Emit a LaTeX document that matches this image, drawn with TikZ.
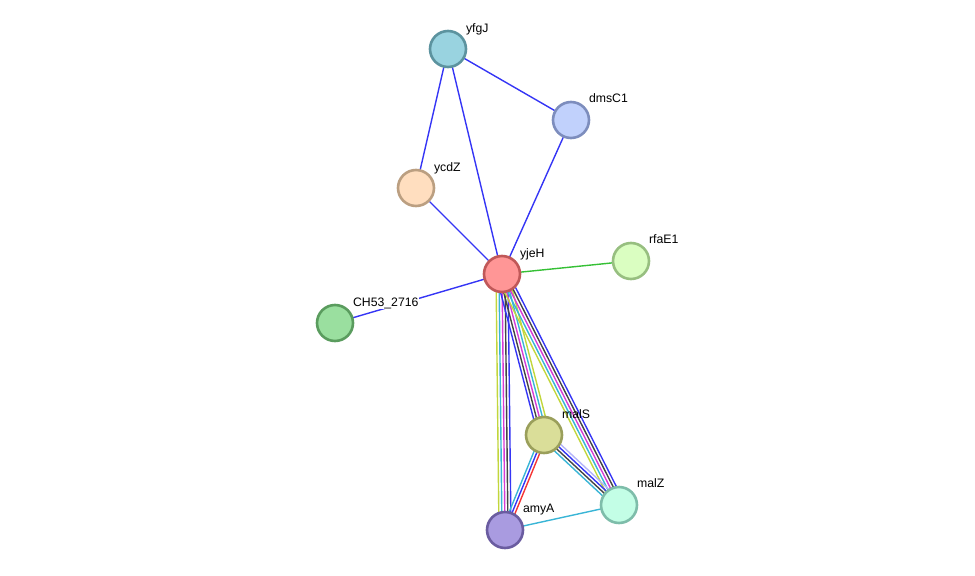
\documentclass[tikz,border=0pt]{standalone}
\usepackage{fontspec}
\setmainfont{Liberation Sans}
\usetikzlibrary{calc,backgrounds}
\definecolor{ctext}{HTML}{C2D63C}
\definecolor{cdb}{HTML}{39B5D6}
\definecolor{cexp}{HTML}{D63CD6}
\definecolor{ccoex}{HTML}{444444}
\definecolor{cblue}{HTML}{3535F5}
\definecolor{chom}{HTML}{B4B4FA}
\definecolor{cred}{HTML}{F53535}
\definecolor{cgreen}{HTML}{35C035}
\tikzset{
  x=0.75pt, y=-0.75pt,
  prot/.style={circle, minimum size=36*0.75pt, inner sep=0pt, line width=2.6*0.75pt},
  lbl/.style={font=\fontsize{9.2}{11}\selectfont, inner sep=0.6pt, anchor=base west},
  edge/.style={line width=1.4*0.75pt},
}
\newcommand{\bund}[4]{% from, to, offset (px), color
  \draw[edge, #4] ($(#1.center)!#3*0.75pt!90:(#2.center)$) -- ($(#2.center)!#3*0.75pt!-90:(#1.center)$);}
\begin{document}
\begin{tikzpicture}
\useasboundingbox (0,0) rectangle (975,575);
\node[prot, fill={rgb,255:red,153;green,211;blue,224}, draw={rgb,255:red,92;green,147;blue,159}] (yfgJ) at (448,49) {};
\node[prot, fill={rgb,255:red,193;green,209;blue,252}, draw={rgb,255:red,125;green,141;blue,189}] (dmsC1) at (571,120) {};
\node[prot, fill={rgb,255:red,255;green,222;blue,191}, draw={rgb,255:red,187;green,159;blue,129}] (ycdZ) at (416,188) {};
\node[prot, fill={rgb,255:red,255;green,150;blue,150}, draw={rgb,255:red,192;green,88;blue,88}] (yjeH) at (502,274) {};
\node[prot, fill={rgb,255:red,218;green,254;blue,193}, draw={rgb,255:red,151;green,191;blue,128}] (rfaE1) at (631,261) {};
\node[prot, fill={rgb,255:red,154;green,223;blue,159}, draw={rgb,255:red,90;green,156;blue,94}] (CH) at (335,323) {};
\node[prot, fill={rgb,255:red,218;green,222;blue,153}, draw={rgb,255:red,154;green,159;blue,91}] (malS) at (544,435) {};
\node[prot, fill={rgb,255:red,195;green,254;blue,230}, draw={rgb,255:red,126;green,189;blue,170}] (malZ) at (619,505) {};
\node[prot, fill={rgb,255:red,169;green,155;blue,224}, draw={rgb,255:red,106;green,92;blue,160}] (amyA) at (505,530) {};

\begin{pgfonlayer}{background}
\draw[edge, cblue] (yfgJ.center) -- (dmsC1.center);
\draw[edge, cblue] (yfgJ.center) -- (ycdZ.center);
\draw[edge, cblue] (yfgJ.center) -- (yjeH.center);
\draw[edge, cblue] (dmsC1.center) -- (yjeH.center);
\draw[edge, cblue] (ycdZ.center) -- (yjeH.center);
\draw[edge, cblue] (CH.center) -- (yjeH.center);
\draw[edge, cgreen] (rfaE1.center) -- (yjeH.center);
\draw[edge, cdb] (amyA.center) -- (malZ.center);
% yjeH - amyA
\bund{yjeH}{amyA}{-6}{ctext}
\bund{yjeH}{amyA}{-3}{cdb}
\bund{yjeH}{amyA}{0}{cexp}
\bund{yjeH}{amyA}{3}{ccoex}
\bund{yjeH}{amyA}{6}{cblue}
% yjeH - malS
\bund{yjeH}{malS}{-6}{cblue}
\bund{yjeH}{malS}{-3}{ccoex}
\bund{yjeH}{malS}{0}{cexp}
\bund{yjeH}{malS}{3}{cdb}
\bund{yjeH}{malS}{6}{ctext}
% yjeH - malZ
\bund{yjeH}{malZ}{-6}{ctext}
\bund{yjeH}{malZ}{-3}{cdb}
\bund{yjeH}{malZ}{0}{cexp}
\bund{yjeH}{malZ}{3}{ccoex}
\bund{yjeH}{malZ}{6}{cblue}
% malS - malZ
\bund{malS}{malZ}{4.5}{chom}
\bund{malS}{malZ}{1.5}{cblue}
\bund{malS}{malZ}{-1.5}{ccoex}
\bund{malS}{malZ}{-4.5}{cdb}
% malS - amyA
\bund{malS}{amyA}{-3}{cdb}
\bund{malS}{amyA}{0}{cblue}
\bund{malS}{amyA}{3}{cred}
\end{pgfonlayer}

\node[lbl] (lyfgJ) at (465,32) {yfgJ};
\node[lbl] (ldmsC1) at (588,102) {dmsC1};
\node[lbl] (lycdZ) at (433,171) {ycdZ};
\node[lbl] (lyjeH) at (519,257) {yjeH};
\node[lbl] (lrfaE1) at (648,243) {rfaE1};
\node[lbl, fill=white] (lCH) at (352,306) {CH53\_2716};
\node[lbl] (lmalS) at (561,418) {malS};
\node[lbl] (lmalZ) at (636,487) {malZ};
\node[lbl] (lamyA) at (522,512) {amyA};
\end{tikzpicture}
\end{document}
